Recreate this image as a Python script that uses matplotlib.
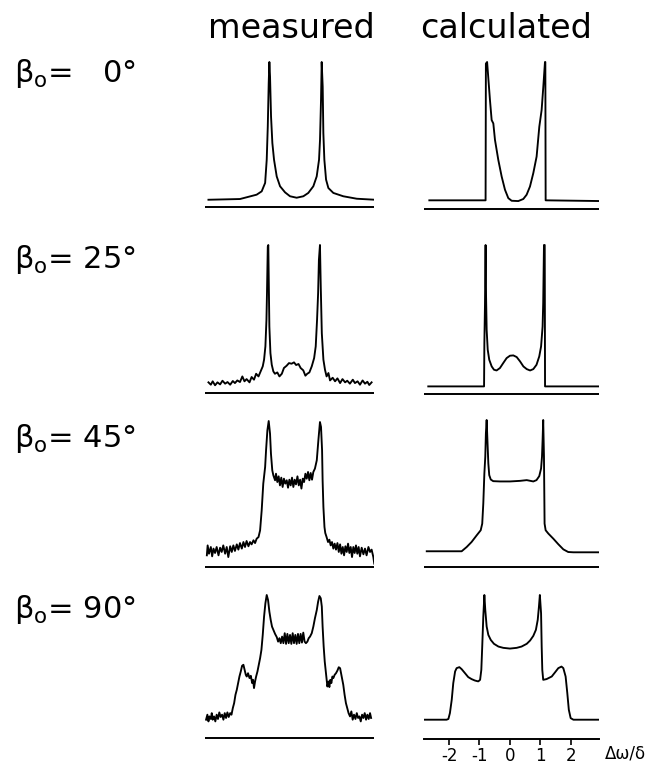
import numpy as np
import matplotlib.pyplot as plt

plt.rcParams['font.family'] = 'DejaVu Sans'
plt.rcParams['mathtext.fontset'] = 'dejavusans'
plt.rcParams['axes.unicode_minus'] = False

angles = [0, 25, 45, 90]
column_titles = ['measured', 'calculated']
axis_ticks = [-2, -1, 0, 1, 2]
axis_label = 'Δω/δ'

# spectra: x in units of delta, intensity in % of the strongest peak
meas_0_x = [-3.25, -2.06, -1.43, -1.24, -1.11, -1.05, -1.01, -0.975, -0.95, -0.925,
            -0.887, -0.837, -0.774, -0.673, -0.547, -0.358, -0.17, 0.08, 0.333, 0.52,
            0.71, 0.837, 0.925, 0.962, 1.0, 1.025, 1.063, 1.088, 1.126, 1.19,
            1.277, 1.465, 1.84, 2.35, 3.04]
meas_0_y = [5.0, 5.5, 8.5, 10.8, 16.6, 32.6, 55.6, 85.5, 100, 90,
            62.5, 44.1, 32.6, 21.1, 14.3, 10.1, 7.4, 6.4, 7.4, 9.7,
            14.3, 21.1, 32.6, 46.4, 74.0, 100, 83.0, 51.0, 32.6, 18.9,
            13.1, 9.7, 7.4, 5.7, 5.0]

calc_0_x = [-2.645, -0.80, -0.79, -0.75, -0.656, -0.601, -0.546, -0.492, -0.383, -0.273,
            -0.164, -0.055, 0.055, 0.273, 0.437, 0.546, 0.656, 0.765, 0.874, 0.962,
            1.038, 1.093, 1.148, 1.16, 1.17, 3.0]
calc_0_y = [5.9, 5.9, 98.9, 100, 74.0, 60.5, 58.2, 47.0, 33.4, 22.1,
            13.1, 7.4, 5.6, 5.4, 6.8, 9.7, 15.3, 24.4, 35.7, 56.0,
            67.3, 83.0, 100, 100, 5.9, 5.4]

meas_1_x = [-3.25, -3.16, -3.09, -3.00, -2.91, -2.81, -2.72, -2.62, -2.53, -2.43,
            -2.33, -2.25, -2.16, -2.06, -1.97, -1.89, -1.81, -1.70, -1.62, -1.53,
            -1.45, -1.36, -1.28, -1.20, -1.15, -1.10, -1.06, -1.04, -1.01, -0.99,
            -0.97, -0.95, -0.91, -0.86, -0.80, -0.74, -0.65, -0.57, -0.48, -0.40,
            -0.30, -0.21, -0.11, -0.02, 0.06, 0.15, 0.23, 0.33, 0.41, 0.48,
            0.56, 0.65, 0.74, 0.80, 0.85, 0.89, 0.92, 0.96, 0.99, 1.03,
            1.09, 1.15, 1.21, 1.28, 1.34, 1.44, 1.53, 1.62, 1.72, 1.81,
            1.91, 1.99, 2.09, 2.20, 2.28, 2.38, 2.47, 2.57, 2.66, 2.75,
            2.82, 2.91]
meas_1_y = [7.2, 5.6, 7.9, 5.2, 7.2, 5.8, 8.3, 6.3, 7.4, 5.6,
            8.1, 6.7, 8.5, 7.4, 11.2, 7.9, 9.4, 7.2, 10.8, 9.0,
            13.0, 11.2, 14.6, 18.0, 22.5, 31.5, 49.4, 67.4, 98.9, 100,
            71.9, 44.9, 27.0, 19.1, 14.6, 13.0, 13.9, 11.2, 13.0, 16.9,
            18.4, 20.2, 19.8, 20.7, 18.9, 19.6, 16.9, 15.3, 11.7, 13.0,
            13.9, 18.0, 23.6, 31.5, 49.4, 67.4, 89.9, 100, 71.9, 40.4,
            22.5, 15.7, 11.2, 13.5, 8.5, 10.3, 7.9, 9.9, 6.7, 9.4,
            7.2, 8.3, 6.3, 9.0, 6.7, 7.9, 5.6, 8.5, 6.3, 7.6,
            5.4, 7.2]

calc_1_x = [-2.68, -0.85, -0.84, -0.82, -0.80, -0.79, -0.765, -0.73, -0.68, -0.60,
            -0.525, -0.44, -0.33, -0.22, -0.11, 0.0, 0.11, 0.22, 0.33, 0.44,
            0.55, 0.66, 0.765, 0.87, 0.96, 1.02, 1.07, 1.09, 1.115, 1.14,
            1.15, 3.0]
calc_1_y = [5.1, 5.1, 34.2, 60.0, 100, 72.1, 43.1, 29.7, 23.0, 18.5,
            16.3, 15.8, 17.4, 20.8, 24.1, 25.7, 25.9, 24.8, 21.9, 18.5,
            16.7, 15.8, 16.7, 19.6, 25.2, 31.9, 45.3, 60.9, 100, 100,
            5.1, 5.1]

meas_2_x = [-3.31, -3.28, -3.23, -3.16, -3.11, -3.06, -3.00, -2.94, -2.87, -2.81,
            -2.75, -2.69, -2.62, -2.56, -2.50, -2.43, -2.37, -2.31, -2.25, -2.18,
            -2.12, -2.06, -1.99, -1.93, -1.87, -1.81, -1.74, -1.68, -1.62, -1.55,
            -1.49, -1.43, -1.36, -1.30, -1.24, -1.18, -1.11, -1.075, -1.025, -0.975,
            -0.925, -0.89, -0.84, -0.80, -0.735, -0.70, -0.65, -0.60, -0.55, -0.50,
            -0.45, -0.40, -0.35, -0.295, -0.245, -0.195, -0.145, -0.095, -0.045, 0.005,
            0.055, 0.11, 0.16, 0.21, 0.26, 0.31, 0.36, 0.41, 0.46, 0.51,
            0.56, 0.61, 0.66, 0.71, 0.77, 0.84, 0.90, 0.96, 1.00, 1.04,
            1.06, 1.09, 1.13, 1.16, 1.21, 1.265, 1.315, 1.365, 1.415, 1.465,
            1.515, 1.565, 1.62, 1.67, 1.72, 1.77, 1.82, 1.87, 1.92, 1.97,
            2.02, 2.07, 2.12, 2.17, 2.22, 2.27, 2.32, 2.37, 2.42, 2.47,
            2.535, 2.60, 2.66, 2.72, 2.79, 2.85, 2.91, 2.975, 3.01]
meas_2_y = [8.0, 14.8, 9.1, 13.7, 7.3, 12.6, 9.6, 13.7, 8.0, 13.2,
            10.3, 14.8, 9.1, 13.7, 6.8, 14.2, 10.3, 14.8, 11.0, 15.5,
            11.9, 16.4, 12.6, 17.1, 13.7, 17.8, 14.2, 17.1, 15.5, 18.3,
            16.4, 19.4, 20.5, 25.1, 38.8, 57.1, 68.5, 79.9, 93.6, 100,
            91.3, 77.6, 66.2, 62.8, 59.4, 63.9, 58.2, 62.1, 55.9, 61.2,
            54.8, 60.5, 57.1, 59.4, 54.3, 59.8, 55.9, 61.2, 54.8, 59.8,
            56.6, 62.1, 55.9, 59.8, 53.7, 60.5, 58.2, 63.9, 60.5, 65.1,
            59.4, 64.4, 59.8, 65.1, 67.4, 73.1, 86.8, 99.3, 95.9, 79.9,
            59.4, 41.1, 27.4, 23.3, 20.5, 17.1, 18.7, 14.8, 17.1, 12.6,
            16.0, 11.9, 16.4, 10.3, 15.5, 9.1, 13.7, 8.0, 14.2, 10.3,
            16.0, 9.6, 13.7, 6.8, 13.7, 9.6, 14.8, 9.1, 13.7, 7.3,
            13.2, 8.7, 12.6, 8.0, 13.7, 10.3, 11.9, 6.8, 2.3]

calc_2_x = [-2.73, -1.585, -1.42, -1.26, -1.09, -0.96, -0.91, -0.875, -0.84, -0.81,
            -0.79, -0.765, -0.74, -0.71, -0.68, -0.63, -0.55, -0.33, 0.0, 0.33,
            0.55, 0.765, 0.87, 0.96, 1.02, 1.05, 1.07, 1.09, 1.115, 1.125,
            1.135, 1.17, 1.26, 1.42, 1.585, 1.75, 1.91, 2.08, 3.0]
calc_2_y = [10.7, 10.7, 13.6, 17.0, 21.6, 25.0, 29.5, 43.2, 63.6, 75.0,
            90.9, 100, 86.4, 70.5, 62.5, 59.5, 58.4, 58.2, 58.2, 58.6,
            59.1, 58.2, 59.1, 61.8, 67.0, 75.0, 86.4, 100, 75.0, 52.3,
            29.5, 25.0, 22.7, 19.3, 15.5, 12.0, 10.2, 10.0, 10.0]

meas_3_x = [-3.34, -3.29, -3.25, -3.21, -3.16, -3.125, -3.09, -3.04, -2.99, -2.94,
            -2.89, -2.84, -2.79, -2.735, -2.685, -2.635, -2.585, -2.535, -2.485, -2.43,
            -2.38, -2.33, -2.28, -2.23, -2.18, -2.13, -2.08, -2.03, -1.98, -1.93,
            -1.89, -1.84, -1.805, -1.755, -1.70, -1.65, -1.60, -1.565, -1.53, -1.49,
            -1.45, -1.40, -1.35, -1.30, -1.25, -1.20, -1.15, -1.10, -1.05, -1.00,
            -0.95, -0.90, -0.85, -0.80, -0.735, -0.67, -0.62, -0.57, -0.52, -0.47,
            -0.42, -0.37, -0.32, -0.27, -0.22, -0.17, -0.12, -0.07, -0.02, 0.03,
            0.08, 0.13, 0.18, 0.23, 0.28, 0.33, 0.38, 0.43, 0.485, 0.535,
            0.585, 0.65, 0.71, 0.77, 0.84, 0.89, 0.94, 0.99, 1.03, 1.06,
            1.10, 1.14, 1.18, 1.21, 1.24, 1.28, 1.315, 1.35, 1.39, 1.43,
            1.465, 1.515, 1.565, 1.62, 1.67, 1.72, 1.755, 1.79, 1.84, 1.89,
            1.94, 1.99, 2.04, 2.095, 2.145, 2.195, 2.245, 2.30, 2.35, 2.40,
            2.45, 2.50, 2.55, 2.60, 2.65, 2.70, 2.75, 2.80, 2.85, 2.89]
meas_3_y = [12.8, 16.3, 11.6, 15.1, 13.3, 17.4, 12.8, 15.1, 11.6, 16.3,
            13.3, 17.9, 14.7, 16.3, 12.8, 17.4, 14.0, 17.9, 14.7, 17.4,
            16.3, 20.9, 24.4, 30.2, 33.7, 38.4, 43.0, 46.5, 50.5, 51.2,
            48.1, 44.2, 43.0, 45.3, 41.9, 43.5, 38.4, 40.7, 34.9, 39.5,
            43.0, 46.5, 51.2, 55.8, 61.6, 72.1, 84.9, 94.2, 100, 96.5,
            88.4, 82.6, 77.9, 75.6, 72.8, 70.5, 67.4, 69.8, 66.3, 70.9,
            66.3, 73.3, 65.8, 72.8, 66.3, 72.1, 65.8, 73.3, 66.3, 72.1,
            65.8, 72.8, 66.3, 72.8, 66.7, 73.7, 67.4, 66.3, 67.4, 69.8,
            70.9, 73.3, 77.9, 83.7, 89.5, 95.3, 99.3, 97.7, 91.9, 77.9,
            64.0, 53.5, 46.5, 40.7, 36.0, 39.5, 35.6, 40.7, 38.4, 43.0,
            41.9, 44.2, 45.3, 47.2, 49.5, 48.8, 45.3, 41.9, 37.2, 30.2,
            24.4, 20.9, 17.4, 15.1, 18.6, 12.8, 16.3, 13.3, 17.4, 14.0,
            15.1, 11.6, 16.3, 14.0, 17.4, 12.8, 16.3, 13.3, 17.4, 14.0]

calc_3_x = [-2.81, -2.08, -2.02, -1.97, -1.91, -1.86, -1.80, -1.75, -1.66, -1.585,
            -1.475, -1.37, -1.26, -1.15, -1.04, -0.98, -0.94, -0.91, -0.875, -0.84,
            -0.81, -0.765, -0.71, -0.63, -0.525, -0.38, -0.22, 0.0, 0.22, 0.38,
            0.55, 0.66, 0.765, 0.85, 0.91, 0.95, 0.98, 1.02, 1.04, 1.06,
            1.09, 1.20, 1.37, 1.475, 1.585, 1.69, 1.75, 1.825, 1.88, 1.93,
            1.99, 2.08, 2.90]
calc_3_y = [13.4, 13.4, 13.9, 18.0, 27.3, 38.8, 46.9, 49.2, 49.9, 48.5,
            45.7, 43.0, 41.6, 40.6, 40.0, 41.1, 48.0, 64.2, 85.0, 100,
            89.6, 78.1, 72.3, 68.8, 66.1, 64.2, 63.3, 62.8, 63.3, 64.2,
            66.1, 68.4, 71.6, 75.8, 82.7, 91.9, 100, 87.3, 64.2, 48.0,
            41.1, 41.6, 43.4, 46.2, 49.2, 50.3, 49.2, 43.4, 31.9, 20.3,
            14.5, 13.4, 13.4]

measured = [(meas_0_x, meas_0_y), (meas_1_x, meas_1_y),
            (meas_2_x, meas_2_y), (meas_3_x, meas_3_y)]
calculated = [(calc_0_x, calc_0_y), (calc_1_x, calc_1_y),
              (calc_2_x, calc_2_y), (calc_3_x, calc_3_y)]

W, H = 652, 767
fig = plt.figure(figsize=(W / 100, H / 100), dpi=100)

# panel layout in pixels: zero line and 100 % level per row, (measured, calculated)
zero_px = [(207, 209), (393, 394), (567, 567), (738, 739)]
top_px = [(62, 62), (245, 245), (421, 420), (595, 595)]
col_px = [(205, 374), (424, 599)]
col_xlim = [(-3.38, 3.0), (-2.82, 2.92)]


def add_panel(x0, x1, y_zero, y_top, xlim):
    pad = 0.05 * (y_zero - y_top)
    bottom = y_zero + pad
    top = y_top - pad
    ax = fig.add_axes([x0 / W, 1 - bottom / H, (x1 - x0) / W, (bottom - top) / H])
    ax.set_xlim(*xlim)
    ax.set_ylim(-5, 105)
    ax.patch.set_visible(False)
    for s in ax.spines.values():
        s.set_visible(False)
    ax.set_yticks([])
    ax.set_xticks([])
    return ax


for r in range(4):
    for c, spectra in enumerate([measured, calculated]):
        ax = add_panel(col_px[c][0], col_px[c][1], zero_px[r][c], top_px[r][c], col_xlim[c])
        x, y = spectra[r]
        ax.plot(x, y, color='black', lw=1.35, solid_joinstyle='round')
        if r == 3 and c == 1:
            ax.spines['bottom'].set_visible(True)
            ax.spines['bottom'].set_position(('data', 0))
            ax.spines['bottom'].set_linewidth(1.4)
            ax.set_xticks(axis_ticks)
            ax.tick_params(axis='x', direction='out', length=4.3, width=1.2,
                           labelsize=12, pad=1.5)
        else:
            ax.axhline(0, color='black', lw=1.4)

fig.text(605 / W, 1 - 753 / H, axis_label, ha='left', va='center', fontsize=12)

title_x = [291, 506]
for tx, t in zip(title_x, column_titles):
    fig.text(tx / W, 1 - 38 / H, t, ha='center', va='baseline', fontsize=24)

label_base = [82, 268, 447, 618]
for a, yb in zip(angles, label_base):
    num = str(a) if a >= 10 else '  ' + str(a)
    fig.text(14 / W, 1 - yb / H, 'β$_{\\mathrm{o}}$= ' + num + '°',
             ha='left', va='baseline', fontsize=22)

fig.savefig('out.png', dpi=100)
